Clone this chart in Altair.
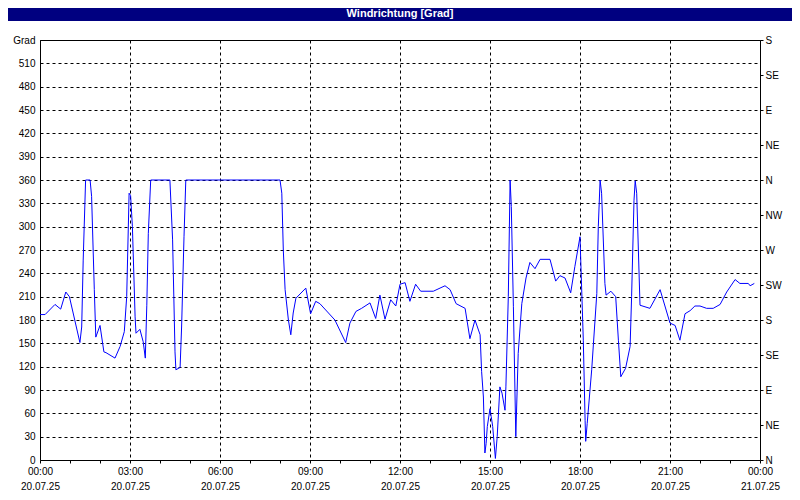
import altair as alt
import pandas as pd

# time of day in hours since 00:00 on 20.07.25
hours = [0.00, 0.17, 0.50, 0.69, 0.86, 0.98, 1.33, 1.39, 1.44, 1.52, 1.67, 1.72, 1.81, 1.86,
         2.00, 2.13, 2.20, 2.50, 2.67, 2.81, 2.89, 2.97, 3.02, 3.08, 3.17, 3.20, 3.33, 3.44,
         3.51, 3.56, 3.61, 3.69, 4.33, 4.42, 4.50, 4.53, 4.67, 4.72, 4.80, 4.86, 8.00, 8.06,
         8.11, 8.17, 8.28, 8.36, 8.44, 8.53, 8.86, 9.02, 9.19, 9.33, 9.83, 10.19, 10.33, 10.53,
         10.72, 11.00, 11.19, 11.33, 11.50, 11.69, 11.86, 12.00, 12.17, 12.33, 12.52, 12.69,
         13.11, 13.50, 13.67, 13.87, 14.17, 14.33, 14.50, 14.67, 14.72, 14.78, 14.83, 14.87,
         14.91, 15.00, 15.04, 15.09, 15.18, 15.24, 15.33, 15.40, 15.50, 15.53, 15.61, 15.67,
         15.71, 15.78, 15.86, 15.94, 16.06, 16.20, 16.33, 16.50, 16.67, 17.00, 17.19, 17.33,
         17.50, 17.69, 17.83, 18.00, 18.11, 18.17, 18.19, 18.24, 18.39, 18.56, 18.61, 18.67,
         18.72, 18.83, 18.87, 19.03, 19.19, 19.28, 19.36, 19.52, 19.67, 19.72, 19.80, 19.84,
         19.89, 20.00, 20.33, 20.67, 21.00, 21.17, 21.33, 21.50, 21.67, 21.83, 22.00, 22.22,
         22.44, 22.67, 22.89, 23.17, 23.33, 23.61, 23.67, 23.81]

# wind direction in degrees
degrees = [187, 187, 200, 194, 216, 210, 151, 171, 257, 360, 360, 339, 219, 158,
           173, 139, 138, 131, 146, 165, 210, 343, 340, 300, 184, 163, 168, 152,
           131, 199, 291, 360, 360, 283, 139, 116, 119, 171, 287, 360, 360, 343,
           270, 219, 180, 161, 189, 208, 221, 188, 204, 201, 180, 151, 176, 191,
           195, 202, 182, 212, 181, 206, 198, 226, 228, 204, 226, 217,
           217, 224, 219, 201, 195, 156, 180, 161, 114, 81, 9, 21,
           43, 66, 56, 43, 2, 30, 94, 86, 64, 94, 210, 360,
           326, 197, 30, 137, 201, 234, 254, 246, 258, 258, 230, 237,
           234, 215, 249, 287, 154, 51, 24, 47, 116, 214, 300, 360,
           343, 227, 212, 217, 210, 154, 107, 118, 146, 210, 334, 359,
           343, 199, 195, 219, 176, 173, 154, 188, 192, 198, 198, 195,
           195, 200, 216, 232, 227, 227, 224, 227]

title_text = "Windrichtung [Grad]"
x_hour_ticks = list(range(0, 25, 1))
date_day1 = "20.07.25"
date_day2 = "21.07.25"
left_ticks = list(range(0, 541, 30))
left_unit = "Grad"
right_ticks = list(range(0, 541, 45))
compass = ["N", "NE", "E", "SE", "S", "SW", "W", "NW"]

FONT = "Liberation Sans"

df = pd.DataFrame({"t": hours, "deg": degrees})

x_scale = alt.Scale(domain=[0, 24], nice=False, zero=False)
y_scale = alt.Scale(domain=[0, 540], nice=False, zero=True)

x_axis = alt.Axis(
    values=x_hour_ticks,
    labelExpr=(
        "datum.value % 3 == 0 ? [format(datum.value % 24, '02d') + ':00', "
        f"datum.value < 24 ? '{date_day1}' : '{date_day2}'] : ''"
    ),
    labelFlush=False, labelOverlap=False, labelBaseline="top",
    labelLineHeight=15, labelPadding=3, labelFont=FONT, labelFontSize=10,
    labelColor="black",
    ticks=True, tickSize=3, tickColor="black",
    grid=True, gridColor="black", gridDash=[3, 3], gridWidth=1,
    gridOpacity={"condition": {"test": "datum.value % 3 == 0", "value": 1}, "value": 0},
    domain=False, title=None,
)

left_axis = alt.Axis(
    values=left_ticks, orient="left",
    labelExpr=f"datum.value == 540 ? '{left_unit}' : datum.label",
    labelFont=FONT, labelFontSize=10, labelColor="black", labelPadding=5,
    ticks=False, grid=True, gridColor="black", gridDash=[3, 3], gridWidth=1,
    domain=False, title=None,
)

compass_expr = "[" + ",".join(f"'{c}'" for c in compass) + "]"
right_axis = alt.Axis(
    values=right_ticks, orient="right",
    labelExpr=f"{compass_expr}[round(datum.value / 45) % 8]",
    labelFont=FONT, labelFontSize=10, labelColor="black", labelPadding=2,
    ticks=True, tickSize=3, tickColor="black",
    grid=False, domain=False, title=None,
)

line = alt.Chart(df).mark_line(color="#0000ff", strokeWidth=1).encode(
    x=alt.X("t:Q", scale=x_scale, axis=x_axis),
    y=alt.Y("deg:Q", scale=y_scale, axis=left_axis),
)

right = alt.Chart(df).mark_line(opacity=0).encode(
    x=alt.X("t:Q", scale=x_scale, axis=None),
    y=alt.Y("deg:Q", scale=y_scale, axis=right_axis),
)

one = alt.Data(values=[{"k": 1}])
bar = alt.Chart(one).mark_rect(color="#000080").encode(
    x=alt.value(-32), x2=alt.value(752), y=alt.value(-32), y2=alt.value(-19)
)
title = alt.Chart(one).mark_text(
    color="white", font=FONT, fontSize=11, fontWeight="bold", baseline="middle", align="center"
).encode(x=alt.value(360), y=alt.value(-26), text=alt.value(title_text))

chart = (
    alt.layer(line, right, bar, title)
    .resolve_axis(y="independent", x="independent")
    .properties(
        width=720, height=420,
        padding={"left": 32, "top": 32, "right": 32, "bottom": 32},
        autosize=alt.AutoSizeParams(type="none"),
        background="white",
    )
    .configure_view(stroke="black", strokeWidth=1)
)

chart.save("out.html", embed_options={"renderer": "svg", "actions": False})
